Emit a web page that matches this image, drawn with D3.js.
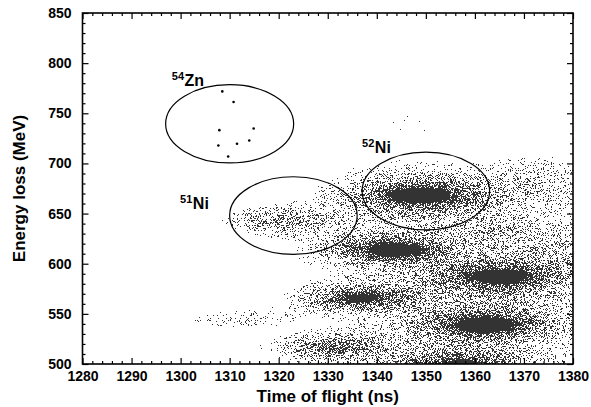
<!DOCTYPE html>
<html><head><meta charset="utf-8">
<script src="https://cdn.jsdelivr.net/npm/d3@7"></script>
<style>
html,body{margin:0;padding:0;background:#fff;}
text{font-family:"Liberation Sans",Arial,sans-serif;font-weight:bold;fill:#000;}
</style></head>
<body><svg id="c" width="591" height="407"></svg>
<script>
// ---------- data ----------
const xDomain = [1280, 1380];
const yDomain = [500, 850];
const xTicks = [1280,1290,1300,1310,1320,1330,1340,1350,1360,1370,1380];
const yTicks = [500,550,600,650,700,750,800,850];
// event clusters (cores, halos, faint groups): tof (ns), energy loss (MeV), spread tof, spread E, relative intensity
const clusterTof  = [1349, 1343.5, 1337, 1365, 1362, 1332, 1357, 1322,  1349, 1343, 1364, 1362, 1337, 1357, 1332, 1322,  1373, 1366, 1312, 1360, 1345, 1376];
const clusterE    = [668,  614,    566,  587,  539,  517,  498,  643,   668,  614,  587,  540,  566,  500,  517,  643,   680,  633,  545,  590,  740,  612];
const clusterSTof = [6.5,  6,      5.5,  6.5,  6.5,  5.5,  6,    6,     11,   10,   11,   11,   9,    11,   9,    10,    7,    6,    8,    18,   8,    5];
const clusterSE   = [8,    7,      6.5,  8,    8,    6.5,  8,    7,     16,   12,   14,   14,   11,   14,   10,   12,    18,   8,    7,    60,   15,   12];
const clusterPeak = [1.0,  1.0,    0.8,  0.95, 1.0,  0.5,  0.85, 0.3,   0.3,  0.25, 0.28, 0.28, 0.2,  0.25, 0.16, 0.08,  0.12, 0.15, 0.1,  0.12, 0.05, 0.15];
// identified 54Zn events
const znTof = [1308.5, 1310.8, 1307.9, 1314.9, 1307.7, 1311.5, 1314.0, 1309.7];
const znE   = [771.8, 761.2, 733.2, 734.8, 717.9, 719.6, 722.9, 706.9];
// selection gates
const gateTof  = [1310, 1323, 1350];
const gateE    = [739.5, 648, 672.5];
const gateRTof = [13.05, 13.0, 13.0];
const gateRE   = [39, 38.7, 38.7];
// isotope labels
const labelMass = ["54", "51", "52"];
const labelElem = ["Zn", "Ni", "Ni"];
const labelTof  = [1298.2, 1299.9, 1337.0];
const labelE    = [777.2, 654.6, 710.4];

// ---------- chart ----------
const L = 82.5, R = 573, T = 13, B = 364;
const x = d3.scaleLinear(xDomain, [L, R]);
const y = d3.scaleLinear(yDomain, [B, T]);
const svg = d3.select("#c");
const defs = svg.append("defs");

defs.append("clipPath").attr("id","plotclip").append("rect")
  .attr("x", L).attr("y", T).attr("width", R-L).attr("height", B-T);

const grad = defs.append("radialGradient").attr("id","gauss");
d3.range(0, 1.0001, 0.1).forEach(t => {
  grad.append("stop").attr("offset", t).attr("stop-color","#000")
    .attr("stop-opacity", t >= 0.999 ? 0 : Math.exp(-Math.pow(3*t,2)/2));
});

// stipple rendering of the event density
const f = defs.append("filter").attr("id","stip").attr("filterUnits","userSpaceOnUse")
  .attr("x", L).attr("y", T).attr("width", R-L).attr("height", B-T)
  .attr("color-interpolation-filters","sRGB");
f.append("feTurbulence").attr("type","fractalNoise").attr("baseFrequency","1.7")
  .attr("numOctaves","1").attr("seed","11").attr("result","noise");
f.append("feColorMatrix").attr("in","noise").attr("type","matrix")
  .attr("values","0 0 0 0 0  0 0 0 0 0  0 0 0 0 0  0 0 0 1 0").attr("result","na0");
f.append("feComponentTransfer").attr("in","na0").attr("result","na")
  .append("feFuncA").attr("type","table")
  .attr("tableValues","0.6 0.65 0.7 0.75 0.8 0.85 0.9 0.06 0.1 0.25 0.5 0.8 0.952 0.994 1 1 1 1 1 1 1");
f.append("feComposite").attr("in","SourceAlpha").attr("in2","na")
  .attr("operator","arithmetic").attr("k1",0).attr("k2",1.3).attr("k3",-1).attr("k4",0.5)
  .attr("result","diff");
f.append("feComponentTransfer").attr("in","diff").attr("result","dots")
  .append("feFuncA").attr("type","discrete").attr("tableValues","0 1");
f.append("feFlood").attr("flood-color","#333").attr("result","ink");
f.append("feComposite").attr("in","ink").attr("in2","dots").attr("operator","in");

const dens = svg.append("g").attr("clip-path","url(#plotclip)")
  .append("g").attr("filter","url(#stip)");
const kx = (R-L)/(xDomain[1]-xDomain[0]);
const ky = (B-T)/(yDomain[1]-yDomain[0]);
clusterTof.forEach((c,i) => {
  dens.append("ellipse")
    .attr("cx", x(c)).attr("cy", y(clusterE[i]))
    .attr("rx", 3*clusterSTof[i]*kx).attr("ry", 3*clusterSE[i]*ky)
    .attr("fill","url(#gauss)").attr("fill-opacity", clusterPeak[i]);
});

// 54Zn events
svg.append("g").selectAll("circle").data(znTof).join("circle")
  .attr("cx", d=>x(d)).attr("cy", (d,i)=>y(znE[i])).attr("r",1.3).attr("fill","#000");

// gates
svg.append("g").selectAll("ellipse").data(gateTof).join("ellipse")
  .attr("cx", d=>x(d)).attr("cy", (d,i)=>y(gateE[i]))
  .attr("rx", (d,i)=>gateRTof[i]*kx).attr("ry", (d,i)=>gateRE[i]*ky)
  .attr("fill","none").attr("stroke","#000").attr("stroke-width",1.2);

// isotope labels
labelMass.forEach((m,i) => {
  const t = svg.append("text").attr("x", x(labelTof[i])).attr("y", y(labelE[i]))
    .style("font-size","16px");
  t.append("tspan").text(m).style("font-size","11px").attr("dy", -6);
  t.append("tspan").text(labelElem[i]).attr("dy", 6).attr("dx", 0.5);
});

// axes
function styleAxis(g){
  g.attr("font-family", null).attr("font-size", null);
  g.select(".domain").remove();
  g.selectAll(".tick line").attr("stroke","#000").attr("stroke-width",1.2);
  g.selectAll("text").style("font-size","14px").style("font-weight","bold");
}
const xMinor = d3.range(1280, 1381, 2).filter(v => v % 10 !== 0);
const yMinor = d3.range(500, 851, 10).filter(v => v % 50 !== 0);

svg.append("g").attr("transform",`translate(0,${B})`)
  .call(d3.axisBottom(x).tickValues(xTicks).tickSize(-6).tickSizeOuter(0).tickPadding(7).tickFormat(d3.format("d"))).call(styleAxis);
svg.append("g").attr("transform",`translate(0,${B})`)
  .call(d3.axisBottom(x).tickValues(xMinor).tickSize(-3).tickSizeOuter(0).tickFormat("")).call(styleAxis);
svg.append("g").attr("transform",`translate(0,${T})`)
  .call(d3.axisTop(x).tickValues(xTicks).tickSize(-6).tickSizeOuter(0).tickFormat("")).call(styleAxis);
svg.append("g").attr("transform",`translate(0,${T})`)
  .call(d3.axisTop(x).tickValues(xMinor).tickSize(-3).tickSizeOuter(0).tickFormat("")).call(styleAxis);
svg.append("g").attr("transform",`translate(${L},0)`)
  .call(d3.axisLeft(y).tickValues(yTicks).tickSize(-6).tickSizeOuter(0).tickPadding(11).tickFormat(d3.format("d"))).call(styleAxis);
svg.append("g").attr("transform",`translate(${L},0)`)
  .call(d3.axisLeft(y).tickValues(yMinor).tickSize(-3).tickSizeOuter(0).tickFormat("")).call(styleAxis);
svg.append("g").attr("transform",`translate(${R},0)`)
  .call(d3.axisRight(y).tickValues(yTicks).tickSize(-6).tickSizeOuter(0).tickFormat("")).call(styleAxis);
svg.append("g").attr("transform",`translate(${R},0)`)
  .call(d3.axisRight(y).tickValues(yMinor).tickSize(-3).tickSizeOuter(0).tickFormat("")).call(styleAxis);

svg.append("rect").attr("x",L).attr("y",T).attr("width",R-L).attr("height",B-T)
  .attr("fill","none").attr("stroke","#000").attr("stroke-width",1.6);

// titles
svg.append("text").attr("x",(L+R)/2).attr("y",402).attr("text-anchor","middle")
  .style("font-size","17px").text("Time of flight (ns)");
svg.append("text").attr("transform",`translate(25,${(T+B)/2}) rotate(-90)`)
  .attr("text-anchor","middle").style("font-size","17px").text("Energy loss (MeV)");
</script></body></html>
